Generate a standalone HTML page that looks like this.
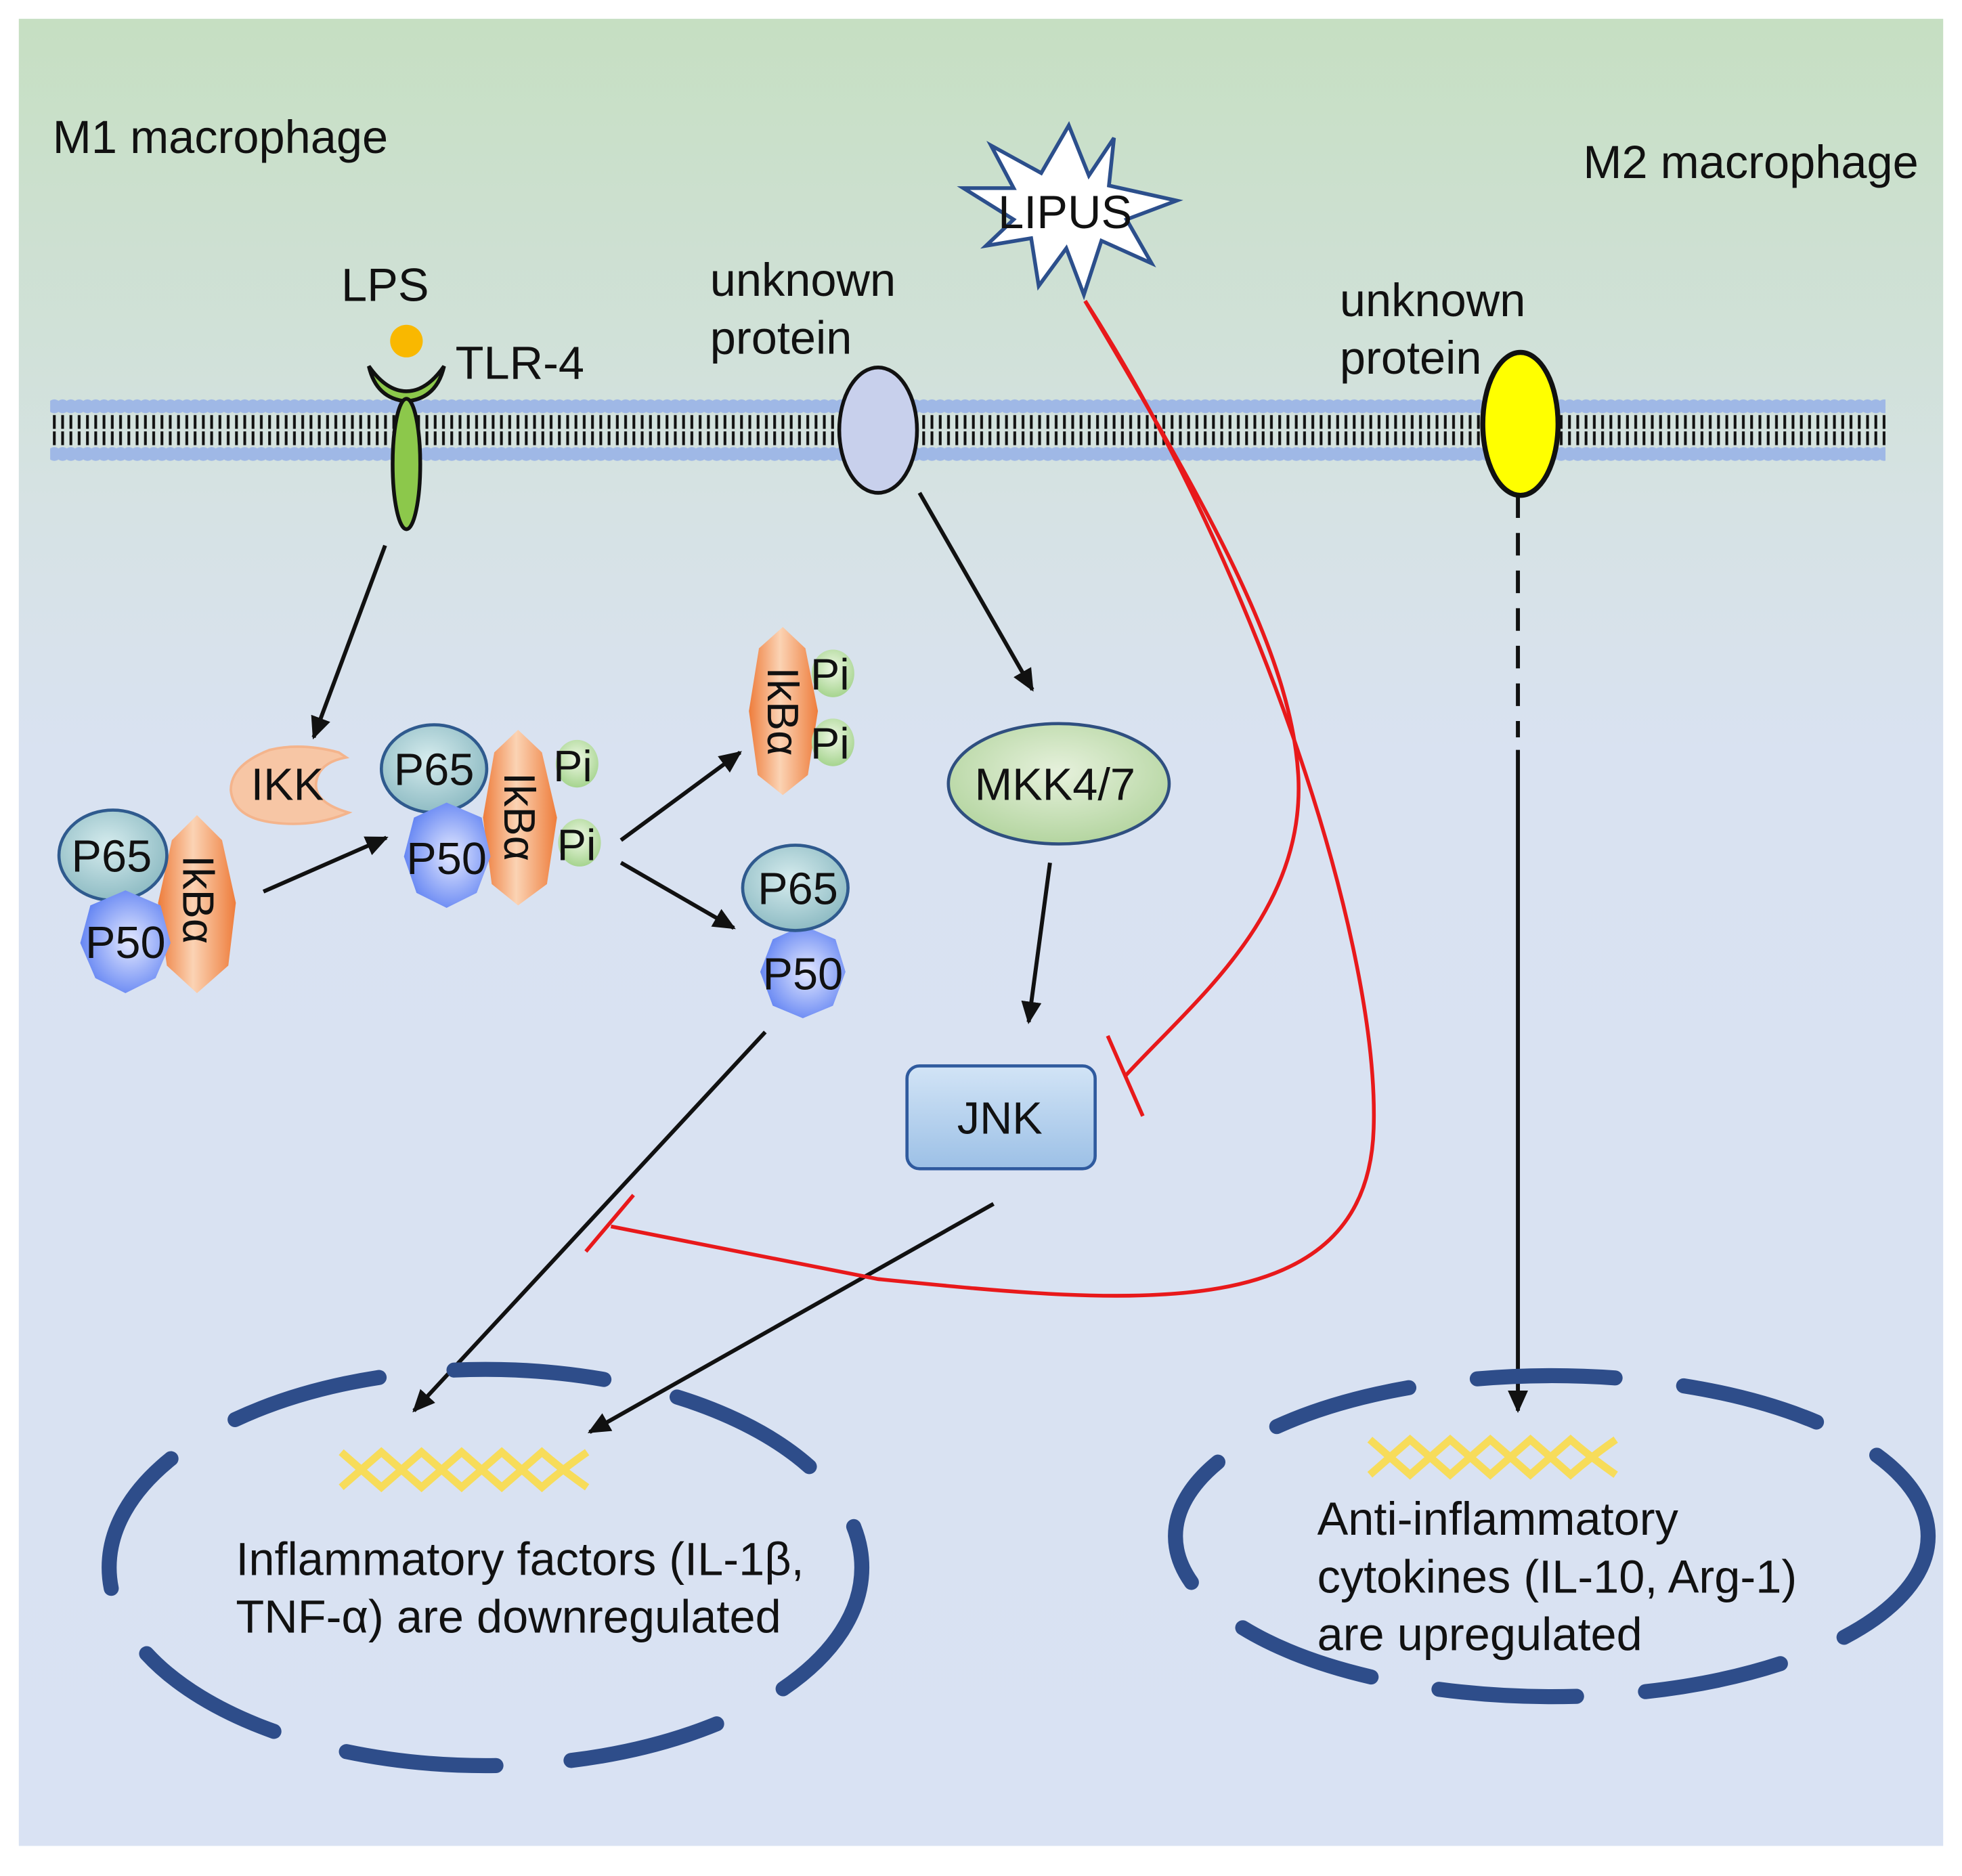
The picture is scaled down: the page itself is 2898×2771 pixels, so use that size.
<!DOCTYPE html>
<html><head><meta charset="utf-8"><style>html,body{margin:0;padding:0;background:#fff}svg{display:block}text{font-family:"Liberation Sans",sans-serif;fill:#111}</style></head>
<body>
<svg width="2898" height="2771" viewBox="0 0 1564 1496" preserveAspectRatio="none" xmlns="http://www.w3.org/2000/svg">
<defs>
<linearGradient id="bg" x1="0" y1="0" x2="0" y2="1">
<stop offset="0" stop-color="#c6dfc2"/><stop offset="0.27" stop-color="#d6e2e4"/><stop offset="0.4" stop-color="#d9e2f1"/><stop offset="1" stop-color="#d9e2f3"/></linearGradient>
<radialGradient id="p65" cx="0.45" cy="0.4" r="0.6"><stop offset="0" stop-color="#d6ecee"/><stop offset="1" stop-color="#8fbcc4"/></radialGradient>
<radialGradient id="p50" cx="0.55" cy="0.5" r="0.6"><stop offset="0" stop-color="#e4e9ff"/><stop offset="1" stop-color="#5a7df2"/></radialGradient>
<linearGradient id="ikb" x1="0" y1="0" x2="1" y2="0"><stop offset="0" stop-color="#ee7d3c"/><stop offset="0.45" stop-color="#fbd3b4"/><stop offset="1" stop-color="#ee7d3c"/></linearGradient>
<radialGradient id="pi" cx="0.5" cy="0.4" r="0.6"><stop offset="0" stop-color="#eef8e4"/><stop offset="1" stop-color="#a6d48f"/></radialGradient>
<radialGradient id="mkk" cx="0.5" cy="0.4" r="0.6"><stop offset="0" stop-color="#e6f1dc"/><stop offset="1" stop-color="#b4d5a0"/></radialGradient>
<linearGradient id="jnk" x1="0" y1="0" x2="0" y2="1"><stop offset="0" stop-color="#d2e4f6"/><stop offset="1" stop-color="#9cc0e6"/></linearGradient>
<pattern id="mem" x="40" y="312" width="6.6" height="62" patternUnits="userSpaceOnUse">
<circle cx="3.3" cy="12" r="5.5" fill="#9fb8e6"/><circle cx="3.3" cy="50" r="5.5" fill="#9fb8e6"/>
<rect x="2.2" y="19" width="2.2" height="11" fill="#111"/><rect x="2.2" y="32" width="2.2" height="11" fill="#111"/>
</pattern>
<marker id="a" viewBox="0 0 10 10" refX="9" refY="5" markerWidth="18" markerHeight="18" orient="auto" markerUnits="userSpaceOnUse"><path d="M0,0.5 L10,5 L0,9.5 z" fill="#111"/></marker>
</defs>
<rect x="15" y="15" width="1534" height="1457" fill="url(#bg)"/>

<!-- membrane -->
<rect x="40" y="312" width="1463" height="62" fill="url(#mem)"/>

<!-- labels -->
<g font-size="37">
<text x="42" y="122">M1 macrophage</text>
<text x="1262" y="142">M2 macrophage</text>
<text x="272" y="240">LPS</text>
<text x="363" y="302">TLR-4</text>
<text x="566" y="236">unknown</text>
<text x="566" y="282">protein</text>
<text x="1068" y="252">unknown</text>
<text x="1068" y="298">protein</text>
</g>

<!-- LIPUS star -->
<polygon points="852,100 868,140 888,110 884,148 938,160 898,175 918,210 878,192 864,235 850,198 828,228 822,190 786,196 808,175 768,150 808,150 790,116 830,138" fill="#fff" stroke="#2c4f8c" stroke-width="3"/>
<text x="849" y="182" font-size="37" text-anchor="middle">LIPUS</text>

<!-- TLR4 -->
<circle cx="324" cy="272" r="13" fill="#f9b800"/>
<path d="M294,292 Q300,318 324,320 Q348,318 354,292 Q340,312 324,312 Q308,312 294,292 z" fill="#8cc84b" stroke="#111" stroke-width="3"/>
<ellipse cx="324" cy="370" rx="11" ry="52" fill="#8cc84b" stroke="#111" stroke-width="3"/>

<!-- unknown proteins -->
<ellipse cx="700" cy="343" rx="31" ry="50" fill="#c8d0ec" stroke="#111" stroke-width="3"/>
<ellipse cx="1212" cy="338" rx="30" ry="57" fill="#ffff00" stroke="#111" stroke-width="4"/>

<!-- IKK -->
<path d="M270,600 Q240,592 215,598 Q184,610 184,630 Q186,652 218,656 Q250,660 278,648 Q250,640 252,624 Q254,608 276,604 z" fill="#f7c6a5" stroke="#f4b48c" stroke-width="2"/>
<text x="200" y="638" font-size="36">IKK</text>

<!-- complex 1 -->
<polygon points="157,650 177,670 188,720 182,770 157,792 133,770 126,720 137,670" fill="url(#ikb)"/>
<text transform="translate(146,682) rotate(90)" font-size="35">IkBα</text>
<ellipse cx="90" cy="682" rx="43" ry="36" fill="url(#p65)" stroke="#2f5a8e" stroke-width="2.5"/>
<text x="89" y="695" font-size="36" text-anchor="middle">P65</text>
<polygon points="100,710 128,722 136,752 124,780 100,792 76,780 64,752 72,722" fill="url(#p50)"/>
<text x="100" y="764" font-size="36" text-anchor="middle">P50</text>

<!-- complex 2 -->
<polygon points="413,582 432,600 444,652 436,705 413,722 392,705 385,652 394,600" fill="url(#ikb)"/>
<text transform="translate(402,616) rotate(90)" font-size="35">IkBα</text>
<ellipse cx="346" cy="613" rx="42" ry="35" fill="url(#p65)" stroke="#2f5a8e" stroke-width="2.5"/>
<text x="346" y="626" font-size="36" text-anchor="middle">P65</text>
<polygon points="356,640 384,652 391,683 380,712 356,724 332,712 322,683 330,652" fill="url(#p50)"/>
<text x="356" y="697" font-size="36" text-anchor="middle">P50</text>
<ellipse cx="460" cy="609" rx="17" ry="19" fill="url(#pi)"/>
<text x="441" y="623" font-size="35">Pi</text>
<ellipse cx="462" cy="672" rx="17" ry="19" fill="url(#pi)"/>
<text x="444" y="686" font-size="35">Pi</text>

<!-- free IkBa -->
<polygon points="624,500 642,517 652,567 644,618 624,634 604,618 597,567 605,517" fill="url(#ikb)"/>
<text transform="translate(612,532) rotate(90)" font-size="35">IkBα</text>
<ellipse cx="664" cy="537" rx="17" ry="19" fill="url(#pi)"/>
<text x="646" y="550" font-size="35">Pi</text>
<ellipse cx="664" cy="592" rx="17" ry="19" fill="url(#pi)"/>
<text x="646" y="605" font-size="35">Pi</text>

<!-- free P65/P50 -->
<polygon points="640,738 666,749 674,775 664,802 640,812 616,802 606,775 616,749" fill="url(#p50)"/>
<text x="640" y="789" font-size="36" text-anchor="middle">P50</text>
<ellipse cx="634" cy="708" rx="42" ry="34" fill="url(#p65)" stroke="#2f5a8e" stroke-width="2.5"/>
<text x="636" y="721" font-size="36" text-anchor="middle">P65</text>

<!-- MKK / JNK -->
<ellipse cx="844" cy="625" rx="88" ry="48" fill="url(#mkk)" stroke="#2f4f80" stroke-width="2.5"/>
<text x="841" y="638" font-size="36" text-anchor="middle">MKK4/7</text>
<rect x="723" y="850" width="150" height="82" rx="10" fill="url(#jnk)" stroke="#2f5a9e" stroke-width="2.5"/>
<text x="797" y="904" font-size="36" text-anchor="middle">JNK</text>

<!-- black arrows -->
<g stroke="#111" stroke-width="3.2" fill="none" marker-end="url(#a)">
<line x1="307" y1="435" x2="250" y2="588"/>
<line x1="210" y1="711" x2="308" y2="668"/>
<line x1="495" y1="670" x2="590" y2="600"/>
<line x1="495" y1="688" x2="585" y2="740"/>
<line x1="733" y1="393" x2="823" y2="550"/>
<line x1="837" y1="688" x2="820" y2="815"/>
<line x1="610" y1="823" x2="330" y2="1125"/>
<line x1="792" y1="960" x2="470" y2="1142"/>
<line x1="1210" y1="598" x2="1210" y2="1125"/>
</g>
<line x1="1210" y1="395" x2="1210" y2="588" stroke="#111" stroke-width="3.2" stroke-dasharray="18,12"/>

<!-- red inhibition -->
<g stroke="#e8191b" stroke-width="3" fill="none">
<path d="M865,240 C960,400 1030,520 1035,620 C1040,730 950,800 897,858"/>
<line x1="883" y1="826" x2="911" y2="890"/>
<path d="M865,240 C1000,450 1100,750 1095,900 C1090,1060 900,1040 700,1020 L487,978"/>
<line x1="467" y1="998" x2="505" y2="953"/>
</g>

<!-- nuclei -->
<ellipse cx="387" cy="1250" rx="300" ry="158" fill="none" stroke="#2e4d8a" stroke-width="12" stroke-linecap="round" stroke-dasharray="120,60"/>
<ellipse cx="1237" cy="1225" rx="300" ry="128" fill="none" stroke="#2e4d8a" stroke-width="12" stroke-linecap="round" stroke-dasharray="110,55"/>

<!-- DNA -->
<g stroke="#f7dc5a" stroke-width="6" fill="none">
<path d="M272,1158 Q288,1172 304,1186 Q320,1172 336,1158 Q352,1172 368,1186 Q384,1172 400,1158 Q416,1172 432,1186 Q448,1172 468,1158"/>
<path d="M272,1186 Q288,1172 304,1158 Q320,1172 336,1186 Q352,1172 368,1158 Q384,1172 400,1186 Q416,1172 432,1158 Q448,1172 468,1186"/>
<path d="M1092,1148 Q1108,1162 1124,1176 Q1140,1162 1156,1148 Q1172,1162 1188,1176 Q1204,1162 1220,1148 Q1236,1162 1252,1176 Q1268,1162 1288,1148"/>
<path d="M1092,1176 Q1108,1162 1124,1148 Q1140,1162 1156,1176 Q1172,1162 1188,1148 Q1204,1162 1220,1176 Q1236,1162 1252,1148 Q1268,1162 1288,1176"/>
</g>

<g font-size="37">
<text x="188" y="1256">Inflammatory factors (IL-1β,</text>
<text x="188" y="1302">TNF-α) are downregulated</text>
<text x="1050" y="1224">Anti-inflammatory</text>
<text x="1050" y="1270">cytokines (IL-10, Arg-1)</text>
<text x="1050" y="1316">are upregulated</text>
</g>
</svg>
</body></html>
